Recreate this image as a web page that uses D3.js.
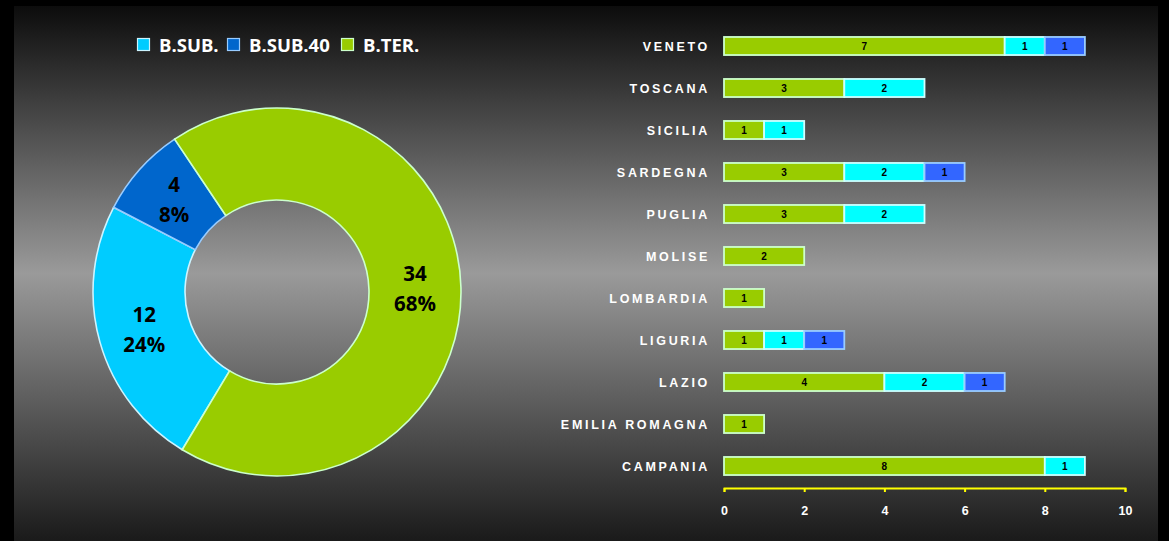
<!DOCTYPE html>
<html>
<head>
<meta charset="utf-8">
<script src="https://cdn.jsdelivr.net/npm/d3@7"></script>
<style>
html,body{margin:0;padding:0;background:#000;}
svg{display:block;}
</style>
</head>
<body>
<script>
// ---- data ----
const seriesNames = ["B.SUB.", "B.SUB.40", "B.TER."];
const donutValues = [12, 4, 34];
const regions = ["VENETO","TOSCANA","SICILIA","SARDEGNA","PUGLIA","MOLISE","LOMBARDIA","LIGURIA","LAZIO","EMILIA ROMAGNA","CAMPANIA"];
const terValues   = [7,3,1,3,3,2,1,1,4,1,8];
const subValues   = [1,2,1,2,2,0,0,1,2,0,1];
const sub40Values = [1,0,0,1,0,0,0,1,1,0,0];
const xTicks = [0,2,4,6,8,10];

const W = 1169, H = 541;
const svg = d3.select("body").append("svg").attr("width", W).attr("height", H);

const defs = svg.append("defs");
const grad = defs.append("linearGradient").attr("id","bg").attr("x1",0).attr("y1",0).attr("x2",0).attr("y2",1);
grad.append("stop").attr("offset","0%").attr("stop-color","#0c0c0c");
grad.append("stop").attr("offset","50%").attr("stop-color","#9a9a9a");
grad.append("stop").attr("offset","100%").attr("stop-color","#1a1a1a");

svg.append("rect").attr("width",W).attr("height",H).attr("fill","#000");
svg.append("rect").attr("x",14).attr("y",6).attr("width",1144).attr("height",H-6).attr("fill","url(#bg)");

// ---- donut ----
const donutFill   = {"B.SUB.":"#00CCFF","B.SUB.40":"#0066CC","B.TER.":"#99CC00"};
const donutStroke = {"B.SUB.":"#CCF4FF","B.SUB.40":"#99CCFF","B.TER.":"#CCFFCC"};
const cx = 277, cy = 292, rOuter = 184, rInner = 92;
const total = d3.sum(donutValues);
const startA = 211 * Math.PI / 180;
const pie = d3.pie().sort(null).startAngle(startA).endAngle(startA + 2*Math.PI);
const arcs = pie(donutValues);
const arc = d3.arc().innerRadius(rInner).outerRadius(rOuter);
const dg = svg.append("g").attr("transform",`translate(${cx},${cy})`);
dg.selectAll("path").data(arcs).join("path")
  .attr("d", arc)
  .attr("fill", (d,i)=>donutFill[seriesNames[i]])
  .attr("stroke", (d,i)=>donutStroke[seriesNames[i]])
  .attr("stroke-width", 1.6);
const lbl = dg.selectAll("text.dl").data(arcs).join("text")
  .attr("class","dl")
  .attr("text-anchor","middle")
  .attr("font-family","'Open Sans', sans-serif")
  .attr("font-weight","bold")
  .attr("font-size","20.5px")
  .attr("fill","#000")
  .attr("transform", d => { const c = arc.centroid(d); return `translate(${c[0]},${c[1]})`; });
lbl.append("tspan").attr("x",0).attr("y",-8).text(d=>d.data);
lbl.append("tspan").attr("x",0).attr("y",22).text(d=>Math.round(d.data/total*100)+"%");

// ---- legend ----
const legX = [137, 227, 341];
const lg = svg.append("g");
seriesNames.forEach((s,i)=>{
  lg.append("rect").attr("x",legX[i]+0.5).attr("y",38.5).attr("width",12).attr("height",12)
    .attr("fill",donutFill[s]).attr("stroke",donutStroke[s]).attr("stroke-width",1.2);
  lg.append("text").attr("x",legX[i]+22).attr("y",52)
    .attr("font-family","'Open Sans', sans-serif").attr("font-weight","bold")
    .attr("font-size","18.5px").attr("fill","#fff").text(s);
});

// ---- bar chart ----
const x = d3.scaleLinear().domain([0,10]).range([724,1125]);
const y = d3.scaleBand().domain(regions).range([25,487]).paddingInner(0.57).paddingOuter(0.285);
const barFill   = {"B.TER.":"#99CC00","B.SUB.":"#00FFFF","B.SUB.40":"#3366FF"};
const barStroke = {"B.TER.":"#CCFFCC","B.SUB.":"#CCFFFF","B.SUB.40":"#99CCFF"};
const rows = regions.map((r,i)=>({region:r,"B.TER.":terValues[i],"B.SUB.":subValues[i],"B.SUB.40":sub40Values[i]}));
const stackKeys = ["B.TER.","B.SUB.","B.SUB.40"];
const stacked = d3.stack().keys(stackKeys)(rows);
const bg = svg.append("g");
stacked.forEach(layer=>{
  const key = layer.key;
  const segs = layer.filter(d=>d[1]-d[0]>0);
  bg.selectAll(null).data(segs).join("rect")
    .attr("x", d=>x(d[0])).attr("y", d=>y(d.data.region))
    .attr("width", d=>x(d[1])-x(d[0])).attr("height", y.bandwidth())
    .attr("fill", barFill[key]).attr("stroke", barStroke[key]).attr("stroke-width",1.8);
  bg.selectAll(null).data(segs).join("text")
    .attr("x", d=>(x(d[0])+x(d[1]))/2).attr("y", d=>y(d.data.region)+y.bandwidth()/2+3.5)
    .attr("text-anchor","middle").attr("font-family","'Liberation Sans', Arial, sans-serif")
    .attr("font-weight","bold").attr("font-size","10px").attr("fill","#000")
    .text(d=>d[1]-d[0]);
});

// category labels
svg.append("g").selectAll("text").data(regions).join("text")
  .attr("x", 710).attr("y", d=>y(d)+y.bandwidth()/2+4.5)
  .attr("text-anchor","end")
  .attr("font-family","'Liberation Sans', Arial, sans-serif")
  .attr("font-weight","bold").attr("font-size","12.5px")
  .attr("letter-spacing","2.7px")
  .attr("fill","#fff").text(d=>d);

// x axis
const ax = svg.append("g").attr("transform","translate(0,488)")
  .call(d3.axisBottom(x).tickValues(xTicks).tickSize(4).tickSizeOuter(4).tickPadding(14).tickFormat(d3.format("d")));
ax.select(".domain").attr("stroke","#FFFF00").attr("stroke-width",1.8);
ax.selectAll(".tick line").attr("stroke","#FFFF00").attr("stroke-width",2);
ax.selectAll(".tick text").attr("fill","#fff").attr("font-family","'Liberation Sans', Arial, sans-serif")
  .attr("font-weight","bold").attr("font-size","12.5px");
</script>
</body>
</html>
